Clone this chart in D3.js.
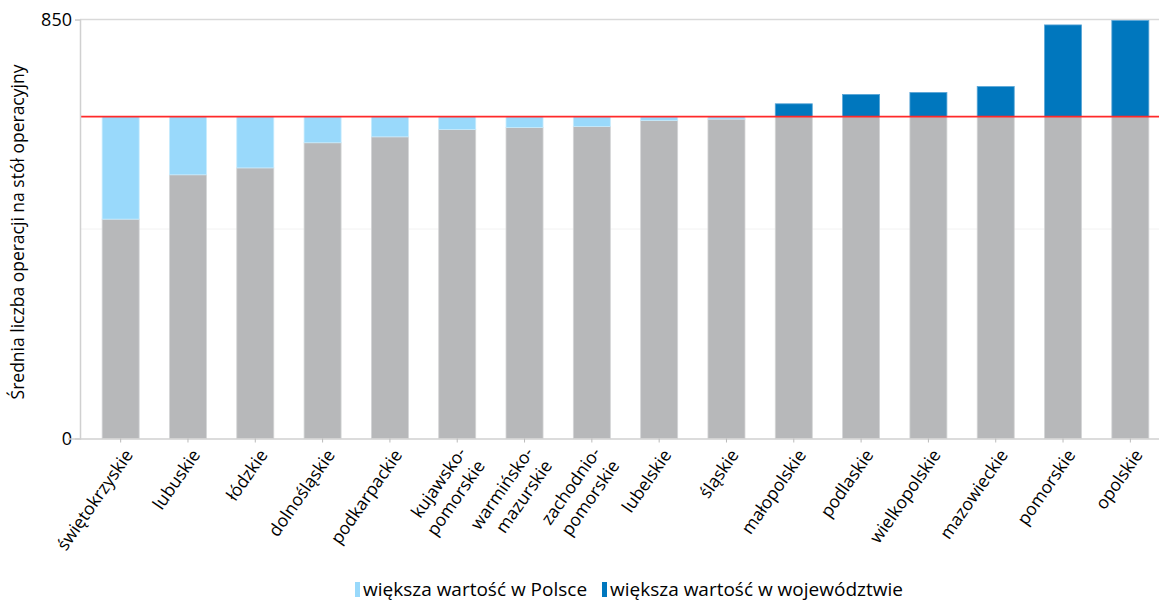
<!DOCTYPE html>
<html><head><meta charset="utf-8">
<script src="https://cdn.jsdelivr.net/npm/d3@7"></script>
<style>
html,body{margin:0;padding:0;background:#fff;}
text{font-family:"Open Sans","Noto Sans",sans-serif;fill:#000;}
</style></head>
<body>
<svg id="chart" width="1159" height="601"></svg>
<script>
const categories = ["świętokrzyskie","lubuskie","łódzkie","dolnośląskie","podkarpackie","kujawsko-|pomorskie","warmińsko-|mazurskie","zachodnio-|pomorskie","lubelskie","śląskie","małopolskie","podlaskie","wielkopolskie","mazowieckie","pomorskie","opolskie"];
const regionValues = [445, 535, 549, 600, 612, 627, 631, 633, 645, 648, 679, 698, 702, 714, 839, 848];
const polandAverage = 653;
const yTickValues = [0, 850];
const yGridValues = [425, 850];
const legendLabels = ["większa wartość w Polsce", "większa wartość w województwie"];
const yTitle = "Średnia liczba operacji na stół operacyjny";

const colors = {base:"#b7b8ba", lower:"#99d9fb", higher:"#0077be", avg:"#ff2a2a", axis:"#d0d0d0", grid:"#f2f2f2"};

const svg = d3.select("#chart");
const m = {left:80, right:1159, top:19.5, bottom:438.5};

const x = d3.scaleBand().domain(categories).range([87, 1164]).paddingInner(0.45).paddingOuter(0.225);
const y = d3.scaleLinear().domain([0, 850]).range([m.bottom, m.top]);

// gridlines
svg.append("g").selectAll("line").data(yGridValues).join("line")
  .attr("x1", m.left).attr("x2", m.right)
  .attr("y1", d => y(d)).attr("y2", d => y(d))
  .attr("stroke", d => d === 850 ? "#d9d9d9" : colors.grid).attr("stroke-width", d => d===850?1.5:1);

// stacked segments
const rows = categories.map((c, i) => {
  const v = regionValues[i];
  return {c, v, base: Math.min(v, polandAverage), lower: Math.max(0, polandAverage - v), higher: Math.max(0, v - polandAverage)};
});
const g = svg.append("g");
g.selectAll("rect.base").data(rows).join("rect").attr("class","base")
  .attr("x", d => x(d.c)).attr("width", x.bandwidth())
  .attr("y", d => y(d.base)).attr("height", d => y(0) - y(d.base))
  .attr("fill", colors.base).attr("stroke","#d4d5d6").attr("stroke-width",0.8);
g.selectAll("rect.lower").data(rows.filter(d => d.lower > 0)).join("rect").attr("class","lower")
  .attr("x", d => x(d.c)).attr("width", x.bandwidth())
  .attr("y", y(polandAverage)).attr("height", d => y(d.base) - y(polandAverage))
  .attr("fill", colors.lower).attr("stroke","#c6ebfd").attr("stroke-width",0.8);
g.selectAll("rect.higher").data(rows.filter(d => d.higher > 0)).join("rect").attr("class","higher")
  .attr("x", d => x(d.c)).attr("width", x.bandwidth())
  .attr("y", d => y(d.v)).attr("height", d => y(polandAverage) - y(d.v))
  .attr("fill", colors.higher).attr("stroke","#5aa6d6").attr("stroke-width",0.8);

// average line
svg.append("line").attr("x1", m.left).attr("x2", m.right)
  .attr("y1", y(polandAverage)).attr("y2", y(polandAverage))
  .attr("stroke", colors.avg).attr("stroke-width", 1.6);

// y axis
const yAxis = svg.append("g").attr("transform", `translate(${m.left},0)`)
  .call(d3.axisLeft(y).tickValues(yTickValues).tickSize(5).tickPadding(3));
yAxis.select(".domain").attr("stroke", colors.axis).attr("stroke-width",1.5);
yAxis.selectAll(".tick line").attr("stroke", colors.axis);
yAxis.selectAll(".tick text").style("font-size","18px").style("font-family","'Open Sans',sans-serif").attr("fill","#000");

// x axis
const xAxis = svg.append("g").attr("transform", `translate(0,${m.bottom})`)
  .call(d3.axisBottom(x).tickSize(4).tickFormat(""));
xAxis.select(".domain").attr("stroke", colors.axis).attr("stroke-width",1.5).attr("d", `M${m.left-12},0.5H${m.right}`);
xAxis.selectAll(".tick line").attr("stroke", "#bbb");

// x labels
const lab = svg.append("g").selectAll("text").data(categories).join("text")
  .attr("transform", d => `translate(${x(d) + x.bandwidth()/2 + 8},${m.bottom + 13}) rotate(-55)`)
  .attr("text-anchor","end").style("font-size","17.5px");
lab.each(function(d){
  const parts = d.split("|");
  const t = d3.select(this);
  if (parts.length === 1) {
    t.append("tspan").attr("x",0).attr("dy","0.35em").text(parts[0]);
  } else {
    t.append("tspan").attr("x",0).attr("dy","0.12em").text(parts[0]);
    t.append("tspan").attr("x",0).attr("dy","1.3em").text(parts[1]);
  }
});

// y title
svg.append("text").attr("transform", `translate(24,232) rotate(-90)`)
  .attr("text-anchor","middle").style("font-size","17.5px").text(yTitle);

// legend
const legendX = [355, 602];
const lg = svg.append("g").selectAll("g").data(legendLabels).join("g")
  .attr("transform", (d,i) => `translate(${legendX[i]},596)`);
lg.append("rect").attr("x",0).attr("y",-14).attr("width",5).attr("height",15)
  .attr("fill", (d,i) => i === 0 ? colors.lower : colors.higher);
lg.append("text").attr("x",8).attr("y",0).style("font-size","19px").text(d => d);
</script>
</body></html>
